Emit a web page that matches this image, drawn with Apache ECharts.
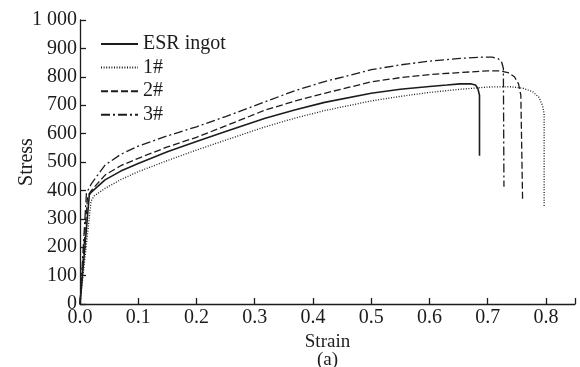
<!DOCTYPE html>
<html>
<head>
<meta charset="utf-8">
<script src="https://cdn.jsdelivr.net/npm/echarts@6/dist/echarts.min.js"></script>
<style>
html,body{margin:0;padding:0;background:#fff;}
#c{width:580px;height:367px;}
</style>
</head>
<body>
<div id="c"></div>
<script>
var seriesNames = ['ESR ingot', '1#', '2#', '3#'];
var yTickLabels = ['0','100','200','300','400','500','600','700','800','900','1 000'];
var xTickLabels = ['0.0','0.1','0.2','0.3','0.4','0.5','0.6','0.7','0.8'];

var esrStrain = [0, 0.016, 0.02, 0.043, 0.07, 0.1, 0.15, 0.2, 0.25, 0.318, 0.37, 0.42, 0.5, 0.55, 0.6, 0.63, 0.653, 0.672, 0.679, 0.683, 0.686, 0.686];
var esrStress = [0, 385, 395, 437, 468, 495, 536, 572, 607, 654, 684, 710, 742, 756, 766, 771, 775, 775, 771, 760, 735, 522];

var s1Strain = [0, 0.019, 0.024, 0.043, 0.07, 0.1, 0.15, 0.2, 0.25, 0.318, 0.37, 0.42, 0.5, 0.55, 0.6, 0.653, 0.7, 0.74, 0.76, 0.777, 0.788, 0.794, 0.797, 0.797];
var s1Stress = [0, 362, 380, 407, 438, 466, 505, 542, 577, 624, 655, 681, 715, 731, 745, 756, 764, 765, 760, 748, 728, 700, 670, 343];

var s2Strain = [0, 0.013, 0.02, 0.043, 0.07, 0.1, 0.15, 0.2, 0.25, 0.318, 0.37, 0.42, 0.5, 0.55, 0.6, 0.653, 0.7, 0.72, 0.735, 0.746, 0.753, 0.757, 0.76];
var s2Stress = [0, 380, 401, 454, 487, 513, 553, 587, 627, 683, 715, 742, 782, 797, 808, 815, 821, 821, 815, 800, 775, 735, 366];

var s3Strain = [0, 0.011, 0.02, 0.043, 0.07, 0.1, 0.15, 0.2, 0.25, 0.318, 0.37, 0.42, 0.5, 0.55, 0.6, 0.653, 0.69, 0.708, 0.718, 0.724, 0.727, 0.728];
var s3Stress = [0, 390, 425, 489, 527, 556, 592, 624, 660, 712, 752, 783, 825, 842, 855, 865, 869, 869, 864, 852, 830, 413];

function pairs(xs, ys) { return xs.map(function (x, i) { return [x, ys[i]]; }); }

var ink = '#1e1b1c';
var font = 'Liberation Serif';

var chart = echarts.init(document.getElementById('c'), null, {renderer: 'canvas'});
var dashes = ['solid', [1, 1.6], [7, 3], [9, 3, 2, 3]];
var data = [pairs(esrStrain, esrStress), pairs(s1Strain, s1Stress), pairs(s2Strain, s2Stress), pairs(s3Strain, s3Stress)];

chart.setOption({
  animation: false,
  backgroundColor: '#fff',
  grid: {left: 80, right: 5, top: 20, bottom: 63, containLabel: false, outerBoundsMode: 'none'},
  legend: {
    orient: 'vertical',
    left: 95,
    top: 29,
    itemWidth: 37,
    itemHeight: 14,
    itemGap: 3.6,
    itemStyle: {opacity: 0},
    textStyle: {fontFamily: font, fontSize: 20, color: ink, lineHeight: 14},
    data: seriesNames
  },
  xAxis: {
    type: 'value',
    min: 0, max: 0.85, interval: 0.1,
    name: 'Strain\n(a)',
    nameLocation: 'middle',
    nameGap: 29,
    nameTextStyle: {fontFamily: font, fontSize: 19, color: ink, lineHeight: 18, verticalAlign: 'top'},
    axisLine: {lineStyle: {color: ink, width: 1.3}},
    axisTick: {inside: true, length: 6, lineStyle: {color: ink, width: 1.3}},
    axisLabel: {
      fontFamily: font, fontSize: 20, color: ink, margin: 4,
      formatter: function (v) { var i = Math.round(v * 10); return (Math.abs(v * 10 - i) < 1e-6 && i < xTickLabels.length) ? xTickLabels[i] : ''; }
    },
    splitLine: {show: false}
  },
  yAxis: {
    type: 'value',
    min: 0, max: 1000, interval: 100,
    name: 'Stress',
    nameLocation: 'middle',
    nameGap: 43,
    nameMoveOverlap: false,
    nameRotate: 90,
    nameTextStyle: {fontFamily: font, fontSize: 20, color: ink},
    axisLine: {lineStyle: {color: ink, width: 1.3}},
    axisTick: {inside: true, length: 6, lineStyle: {color: ink, width: 1.3}},
    axisLabel: {
      fontFamily: font, fontSize: 20, color: ink, margin: 3,
      formatter: function (v) { return yTickLabels[Math.round(v / 100)]; }
    },
    splitLine: {show: false}
  },
  series: seriesNames.map(function (n, i) {
    return {
      name: n,
      type: 'line',
      symbol: 'none',
      showSymbol: false,
      data: data[i],
      color: ink,
      lineStyle: {color: ink, width: i === 0 ? 1.6 : 1.3, type: dashes[i]}
    };
  })
});
</script>
</body>
</html>
